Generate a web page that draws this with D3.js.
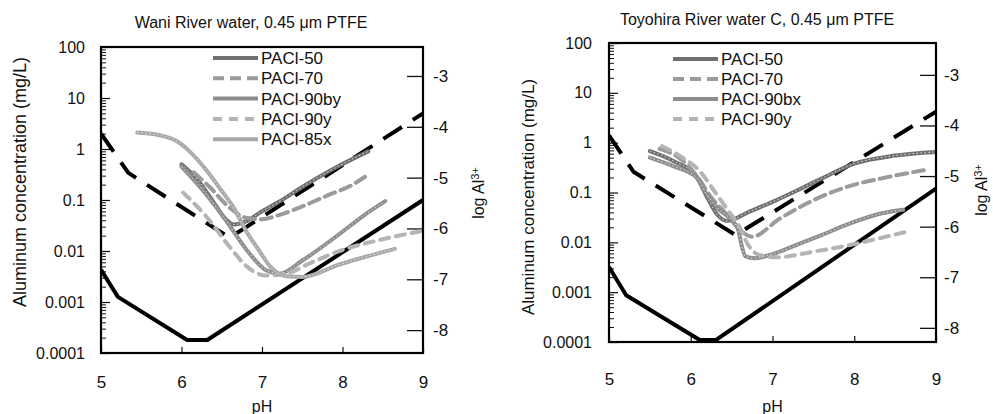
<!DOCTYPE html>
<html>
<head>
<meta charset="utf-8">
<script src="https://cdn.jsdelivr.net/npm/d3@7"></script>
<style>
body { margin: 0; background: #fff; }
svg text { font-family: "Liberation Sans", Arial, sans-serif; fill: #111; }
</style>
</head>
<body>
<svg id="chart" width="993" height="414"></svg>
<script>
// values: [pH, Al mg/L]
const phTicks = [5, 6, 7, 8, 9];
const concTicks = [0.0001, 0.001, 0.01, 0.1, 1, 10, 100];
const logAlTicks = [-3, -4, -5, -6, -7, -8];

// Wani River water
const waniSolid = [[5.0, 0.0043], [5.21, 0.00126], [6.07, 0.00018], [6.32, 0.00018], [9.0, 0.1]];
const waniDashed = [[5.0, 2.0], [5.34, 0.34], [6.58, 0.019], [6.68, 0.022], [9.0, 5.0]];
const waniNames = ['PACl-50', 'PACl-70', 'PACl-90by', 'PACl-90y', 'PACl-85x'];
const wani50 = [[6.0, 0.5], [6.2, 0.25], [6.4, 0.09], [6.55, 0.042], [6.65, 0.033], [6.8, 0.038], [7.0, 0.06], [7.2, 0.09], [7.5, 0.18], [7.9, 0.42], [8.32, 0.9]];
const wani70 = [[6.15, 0.35], [6.35, 0.18], [6.6, 0.07], [6.8, 0.045], [7.0, 0.042], [7.2, 0.05], [7.5, 0.075], [7.85, 0.13], [8.1, 0.19], [8.3, 0.3]];
const wani90by = [[6.0, 0.45], [6.23, 0.18], [6.52, 0.047], [6.81, 0.0105], [7.05, 0.0042], [7.22, 0.0036], [7.5, 0.0065], [7.97, 0.022], [8.25, 0.048], [8.53, 0.095]];
const wani90y = [[6.02, 0.14], [6.31, 0.047], [6.6, 0.012], [6.81, 0.005], [7.05, 0.0033], [7.3, 0.0036], [7.6, 0.0058], [8.0, 0.0105], [8.5, 0.017], [9.0, 0.025]];
const wani85x = [[5.45, 2.1], [5.7, 1.9], [5.95, 1.4], [6.1, 0.9], [6.3, 0.4], [6.5, 0.15], [6.65, 0.07], [6.8, 0.025], [6.95, 0.011], [7.1, 0.005], [7.3, 0.0032], [7.5, 0.0031], [7.97, 0.0055], [8.3, 0.0078], [8.65, 0.011]];
const waniSeries = [wani50, wani70, wani90by, wani90y, wani85x];

// Toyohira River water C
const toyoSolid = [[5.0, 0.0032], [5.21, 0.00087], [6.11, 0.00011], [6.31, 0.00011], [9.0, 0.12]];
const toyoDashed = [[5.0, 1.4], [5.3, 0.26], [6.55, 0.014], [9.0, 4.2]];
const toyoNames = ['PACl-50', 'PACl-70', 'PACl-90bx', 'PACl-90y'];
const toyo50 = [[5.5, 0.68], [5.8, 0.42], [6.07, 0.21], [6.2, 0.08], [6.33, 0.035], [6.45, 0.027], [6.7, 0.04], [7.0, 0.065], [7.3, 0.11], [7.6, 0.19], [8.0, 0.38], [8.5, 0.55], [9.0, 0.65]];
const toyo70 = [[5.62, 0.75], [5.87, 0.48], [6.07, 0.22], [6.25, 0.08], [6.45, 0.035], [6.6, 0.018], [6.75, 0.013], [7.09, 0.03], [7.5, 0.07], [7.91, 0.13], [8.32, 0.19], [8.85, 0.28]];
const toyo90bx = [[5.5, 0.5], [5.8, 0.33], [6.07, 0.2], [6.2, 0.09], [6.35, 0.045], [6.5, 0.028], [6.58, 0.018], [6.62, 0.009], [6.67, 0.0052], [6.78, 0.0048], [7.0, 0.0058], [7.34, 0.0095], [7.6, 0.014], [7.95, 0.024], [8.3, 0.037], [8.6, 0.045]];
const toyo90y = [[5.65, 0.85], [5.9, 0.5], [6.1, 0.28], [6.3, 0.1], [6.45, 0.045], [6.6, 0.02], [6.7, 0.009], [6.85, 0.0055], [7.05, 0.005], [7.5, 0.0065], [7.9, 0.0085], [8.3, 0.012], [8.62, 0.016]];
const toyoSeries = [toyo50, toyo70, toyo90bx, toyo90y];

const seriesStyle = {
  'PACl-50': { color: '#6f6f6f', dash: null },
  'PACl-70': { color: '#9b9b9b', dash: '11,6' },
  'PACl-90by': { color: '#8d8d8d', dash: null },
  'PACl-90bx': { color: '#8d8d8d', dash: null },
  'PACl-90y': { color: '#b4b4b4', dash: '9,7' },
  'PACl-85x': { color: '#a8a8a8', dash: null }
};

const panels = [
  {
    title: 'Wani River water, 0.45 \u03bcm PTFE', titleX: 251, titleY: 28,
    x0: 101, x1: 423, y0: 47, y1: 353, alDomain: [-8.45, -2.43],
    xPad: 23, yPad: 16, rPad: 10, yLabelX: 20, yLabelY: 182, yLabelSize: 18,
    rLabelX: 478, rLabelY: 193,
    legendX: 213, legendY: 58, legendStep: 20.3,
    solid: waniSolid, dashed: waniDashed, names: waniNames, series: waniSeries
  },
  {
    title: 'Toyohira River water C, 0.45 \u03bcm PTFE', titleX: 757, titleY: 25,
    x0: 609, x1: 936, y0: 43, y1: 342, alDomain: [-8.28, -2.37],
    xPad: 31, yPad: 17, rPad: 8, yLabelX: 528, yLabelY: 197, yLabelSize: 17,
    rLabelX: 981, rLabelY: 190,
    legendX: 673, legendY: 59, legendStep: 20,
    solid: toyoSolid, dashed: toyoDashed, names: toyoNames, series: toyoSeries
  }
];

const svg = d3.select('#chart');

function minorTicks() {
  const out = [];
  for (let e = -4; e < 2; e++) {
    for (let m = 2; m <= 9; m++) out.push(m * Math.pow(10, e));
  }
  return out;
}

function drawPanel(p) {
  const g = svg.append('g');
  const x = d3.scaleLinear().domain([5, 9]).range([p.x0, p.x1]);
  const y = d3.scaleLog().domain([1e-4, 100]).range([p.y1, p.y0]);
  const yr = d3.scaleLinear().domain(p.alDomain).range([p.y1, p.y0]);

  // title
  g.append('text')
    .attr('x', p.titleX).attr('y', p.titleY)
    .attr('text-anchor', 'middle')
    .style('font-size', '16px')
    .text(p.title);

  // minor log ticks, inward
  g.append('g')
    .attr('transform', `translate(${p.x0},0)`)
    .call(d3.axisLeft(y).tickValues(minorTicks()).tickSizeInner(-5).tickSizeOuter(0).tickFormat(''))
    .call(a => a.select('.domain').remove())
    .call(a => a.selectAll('line').attr('stroke', '#111'));

  // major log ticks + labels
  g.append('g')
    .attr('transform', `translate(${p.x0},0)`)
    .call(d3.axisLeft(y).tickValues(concTicks).tickSizeInner(-9).tickSizeOuter(0)
      .tickPadding(p.yPad).tickFormat(d => String(d)))
    .call(a => a.select('.domain').remove())
    .call(a => a.selectAll('line').attr('stroke', '#111').attr('stroke-width', 1.2))
    .call(a => a.selectAll('text').style('font-size', '16px').attr('fill', '#111'));

  // right axis: log Al3+
  g.append('g')
    .attr('transform', `translate(${p.x1},0)`)
    .call(d3.axisRight(yr).tickValues(logAlTicks).tickSizeInner(-16).tickSizeOuter(0)
      .tickPadding(p.rPad).tickFormat(d => String(d)))
    .call(a => a.select('.domain').remove())
    .call(a => a.selectAll('line').attr('stroke', '#111').attr('stroke-width', 1.3))
    .call(a => a.selectAll('text').style('font-size', '17px').attr('fill', '#111'));

  // x axis
  g.append('g')
    .attr('transform', `translate(0,${p.y1})`)
    .call(d3.axisBottom(x).tickValues(phTicks).tickSizeInner(-6).tickSizeOuter(0)
      .tickPadding(p.xPad).tickFormat(d => String(d)))
    .call(a => a.select('.domain').remove())
    .call(a => a.selectAll('line').attr('stroke', '#111').attr('stroke-width', 1.2))
    .call(a => a.selectAll('text').style('font-size', '17px').attr('fill', '#111'));

  g.append('text')
    .attr('x', (p.x0 + p.x1) / 2).attr('y', 412)
    .attr('text-anchor', 'middle')
    .style('font-size', '16px')
    .text('pH');

  g.append('text')
    .attr('transform', `translate(${p.yLabelX},${p.yLabelY}) rotate(-90)`)
    .attr('text-anchor', 'middle').attr('dy', '0.35em')
    .style('font-size', p.yLabelSize + 'px')
    .text('Aluminum concentration (mg/L)');

  const rl = g.append('text')
    .attr('transform', `translate(${p.rLabelX},${p.rLabelY}) rotate(-90)`)
    .attr('text-anchor', 'middle').attr('dy', '0.35em')
    .style('font-size', '16px');
  rl.append('tspan').text('log Al');
  rl.append('tspan').attr('dy', '-0.45em').style('font-size', '11px').text('3+');

  // plot content
  const clipId = 'clip' + p.x0;
  g.append('clipPath').attr('id', clipId)
    .append('rect').attr('x', p.x0).attr('y', p.y0)
    .attr('width', p.x1 - p.x0).attr('height', p.y1 - p.y0);
  const plot = g.append('g').attr('clip-path', `url(#${clipId})`);

  const lin = d3.line().x(d => x(d[0])).y(d => y(d[1]));
  const smooth = d3.line().x(d => x(d[0])).y(d => y(d[1])).curve(d3.curveMonotoneX);

  plot.append('path').datum(p.solid)
    .attr('d', lin).attr('fill', 'none')
    .attr('stroke', '#000').attr('stroke-width', 4).attr('stroke-linejoin', 'round');

  plot.append('path').datum(p.dashed)
    .attr('d', lin).attr('fill', 'none')
    .attr('stroke', '#000').attr('stroke-width', 4)
    .attr('stroke-dasharray', '22,13');

  p.series.forEach((s, i) => {
    const st = seriesStyle[p.names[i]];
    plot.append('path').datum(s)
      .attr('d', smooth).attr('fill', 'none')
      .attr('stroke', st.color).attr('stroke-width', 4)
      .attr('stroke-linecap', 'round')
      .attr('stroke-dasharray', st.dash);
    if (!st.dash) {
      plot.append('path').datum(s)
        .attr('d', smooth).attr('fill', 'none')
        .attr('stroke', '#e2e2e2').attr('stroke-width', 1)
        .attr('stroke-dasharray', '1.5,2.5');
    }
  });

  // legend
  const lg = g.append('g');
  p.names.forEach((n, i) => {
    const st = seriesStyle[n];
    const ly = p.legendY + i * p.legendStep;
    lg.append('line')
      .attr('x1', p.legendX).attr('x2', p.legendX + 45)
      .attr('y1', ly).attr('y2', ly)
      .attr('stroke', st.color).attr('stroke-width', 4)
      .attr('stroke-dasharray', st.dash);
    lg.append('text')
      .attr('x', p.legendX + 48).attr('y', ly).attr('dy', '0.36em')
      .style('font-size', '17px')
      .text(n);
  });

  // frame
  g.append('rect')
    .attr('x', p.x0).attr('y', p.y0)
    .attr('width', p.x1 - p.x0).attr('height', p.y1 - p.y0)
    .attr('fill', 'none').attr('stroke', '#000').attr('stroke-width', 2.2);
}

panels.forEach(drawPanel);
</script>
</body>
</html>
